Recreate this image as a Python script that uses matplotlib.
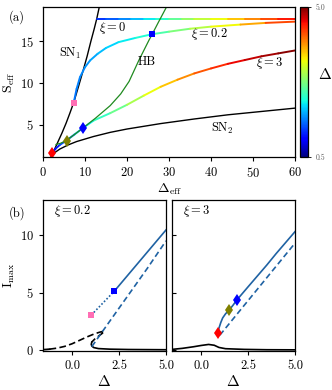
import matplotlib
matplotlib.use("Agg")
import matplotlib.pyplot as plt
import numpy as np
from matplotlib.collections import LineCollection
from matplotlib.colors import Normalize
from matplotlib.cm import ScalarMappable

plt.rcParams.update({
    "font.family": "serif",
    "font.serif": ["cmr10"],
    "mathtext.fontset": "cm",
    "axes.formatter.use_mathtext": True,
    "font.size": 9,
    "axes.linewidth": 0.9,
    "xtick.major.width": 0.8,
    "ytick.major.width": 0.8,
    "xtick.major.size": 3,
    "ytick.major.size": 3,
    "xtick.labelsize": 9,
    "ytick.labelsize": 9,
})

# ---- panel (a): bifurcation curves in (Delta_eff, S_eff) ----
sn1_deff = [1.95, 2.6, 3.5, 4.5, 5.5, 6.4, 7.3, 8.4, 9.5, 10.5, 11.4, 12.2, 12.8, 13.4]
sn1_seff = [1.15, 1.9, 2.9, 4.0, 5.2, 6.4, 7.65, 9.5, 11.4, 13.2, 15.0, 16.5, 17.7, 19.1]

sn2_deff = [2.0, 3.0, 4.0, 6.0, 8.0, 12.0, 16.0, 20.0, 28.0, 36.0, 44.0, 52.0, 60.0]
sn2_seff = [1.25, 1.75, 2.1, 2.6, 3.0, 3.6, 4.1, 4.5, 5.15, 5.7, 6.2, 6.6, 7.0]

hb_deff = [3.1, 4.2, 5.5, 7.5, 9.6, 12.5, 16.0, 18.5, 20.5, 22.8, 25.2, 26.0, 27.5, 29.4]
hb_seff = [2.65, 2.8, 3.1, 3.85, 4.65, 5.8, 7.3, 8.7, 10.2, 12.7, 15.1, 15.85, 17.3, 19.1]

xi0_deff = [12.8, 15, 18, 21, 24, 27, 30, 33, 36, 40, 44, 48, 52, 56, 60]
xi0_seff = [17.7, 17.7, 17.7, 17.7, 17.7, 17.7, 17.7, 17.7, 17.7, 17.7, 17.7, 17.7, 17.7, 17.7, 17.7]
xi0_delta = [1.2, 1.35, 1.55, 1.8, 2.0, 2.2, 2.45, 2.75, 3.0, 3.25, 3.5, 3.8, 4.1, 4.4, 4.6]

xi02_deff = [7.3, 8.0, 8.8, 10, 11.2, 13, 15, 18, 22, 26, 30, 35, 40, 47, 53, 60]
xi02_seff = [7.6, 9.3, 10.7, 11.9, 12.7, 13.5, 14.2, 14.9, 15.4, 15.85, 16.15, 16.5, 16.75, 17.0, 17.2, 17.35]
xi02_delta = [1.55, 1.6, 1.65, 1.7, 1.75, 1.85, 1.95, 2.05, 2.15, 2.4, 2.6, 2.9, 3.2, 3.6, 4.0, 4.5]

xi3_deff = [2.2, 3.0, 4.0, 5.5, 7.5, 9.6, 12, 16, 20, 24, 28, 32, 36, 40, 44, 48, 52, 56, 60]
xi3_seff = [1.6, 2.15, 2.6, 3.1, 3.85, 4.65, 5.5, 6.4, 7.4, 8.5, 9.55, 10.4, 11.15, 11.75, 12.3, 12.75, 13.2, 13.55, 13.9]
xi3_delta = [0.9, 1.05, 1.25, 1.5, 1.75, 2.0, 2.25, 2.5, 2.8, 3.2, 3.5, 3.8, 4.05, 4.3, 4.5, 4.65, 4.8, 4.9, 5.0]

# special points in (a)
red_pt = (2.16, 1.6)
olive_pt = (5.6, 3.1)
bluedia_pt = (9.6, 4.65)
pink_pt = (7.3, 7.6)
bluesq_pt = (26.0, 15.85)

# ---- panel (b) left: xi = 0.2 ----
b1_blk_solid1_d = [-1.6, -1.4, -1.2]
b1_blk_solid1_i = [0.04, 0.05, 0.08]
b1_blk_dash_d = [-1.2, -0.8, -0.4, 0.0, 0.4, 0.8, 1.2, 1.5, 1.72, 1.6, 1.4, 1.2, 1.05]
b1_blk_dash_i = [0.08, 0.17, 0.32, 0.55, 0.85, 1.15, 1.42, 1.57, 1.65, 1.45, 1.2, 0.95, 0.7]
b1_blk_solid2_d = [1.05, 1.02, 1.05, 1.15, 1.4, 2.0, 3.0, 4.0, 5.0]
b1_blk_solid2_i = [0.7, 0.5, 0.35, 0.22, 0.13, 0.08, 0.05, 0.04, 0.03]
b1_blue_solid_d = [2.25, 5.0]
b1_blue_solid_i = [5.13, 10.45]
b1_blue_dot_d = [1.02, 2.25]
b1_blue_dot_i = [3.04, 5.13]
b1_blue_dash_d = [1.05, 1.5, 2.0, 2.5, 3.0, 3.5, 4.0, 4.5, 5.0]
b1_blue_dash_i = [0.3, 1.35, 2.5, 3.65, 4.8, 5.95, 7.1, 8.3, 9.5]
b1_pink_pt = (1.02, 3.04)
b1_bluesq_pt = (2.25, 5.13)

# ---- panel (b) right: xi = 3 ----
b2_blk_d = [-1.55, -1.0, -0.4, 0.0, 0.4, 0.7, 0.95, 1.3, 2.3, 3.5, 5.0]
b2_blk_i = [0.06, 0.15, 0.29, 0.4, 0.49, 0.42, 0.23, 0.12, 0.06, 0.03, 0.02]
b2_blue_solid_d = [0.9, 0.95, 1.05, 1.15, 1.3, 1.5, 1.7, 1.9, 2.5, 3.0, 3.5, 4.0, 4.5, 5.0]
b2_blue_solid_i = [1.5, 1.9, 2.4, 2.8, 3.15, 3.5, 3.9, 4.35, 5.5, 6.45, 7.4, 8.4, 9.35, 10.3]
b2_blue_dash_d = [1.0, 2.0, 3.0, 4.0, 5.0]
b2_blue_dash_i = [1.3, 3.3, 5.3, 7.3, 9.3]
b2_red_pt = (0.9, 1.5)
b2_olive_pt = (1.5, 3.5)
b2_blue_pt = (1.9, 4.35)

pink = "#ff6eb4"
lineblue = "#1f62a3"
cmap = plt.get_cmap("jet")
norm = Normalize(0.5, 5.0)


def colored_line(ax, x, y, c, lw=1.4):
    pts = np.column_stack([x, y]).reshape(-1, 1, 2)
    segs = np.concatenate([pts[:-1], pts[1:]], axis=1)
    cv = 0.5 * (np.asarray(c[:-1]) + np.asarray(c[1:]))
    lc = LineCollection(segs, cmap=cmap, norm=norm, linewidths=lw, capstyle="round")
    lc.set_array(cv)
    ax.add_collection(lc)


fig = plt.figure(figsize=(3.32, 3.9), dpi=100)
ax = fig.add_axes([0.1295, 0.5974, 0.7591, 0.3846])
cax = fig.add_axes([0.9036, 0.5974, 0.024, 0.3846])
axl = fig.add_axes([0.1295, 0.10, 0.3705, 0.387])
axr = fig.add_axes([0.518, 0.10, 0.3705, 0.387])

# panel (a)
ax.plot(sn1_deff, sn1_seff, color="black", lw=1.0)
ax.plot(sn2_deff, sn2_seff, color="black", lw=1.0)
colored_line(ax, xi0_deff, xi0_seff, xi0_delta)
colored_line(ax, xi02_deff, xi02_seff, xi02_delta)
colored_line(ax, xi3_deff, xi3_seff, xi3_delta)
ax.plot(hb_deff, hb_seff, color="#1f8a1f", lw=0.9)
ax.plot(*red_pt, marker="d", color="red", ms=6, mew=0)
ax.plot(*olive_pt, marker="d", color="olive", ms=6, mew=0)
ax.plot(*bluedia_pt, marker="d", color="blue", ms=6, mew=0)
ax.plot(*pink_pt, marker="s", color=pink, ms=5, mew=0)
ax.plot(*bluesq_pt, marker="s", color="blue", ms=5, mew=0)

ax.text(6.4, 13.5, r"SN$_1$", ha="center", va="center")
ax.text(16.5, 16.6, r"$\xi = 0$", ha="center", va="center")
ax.text(24.6, 12.5, "HB", ha="center", va="center")
ax.text(39.6, 15.9, r"$\xi = 0.2$", ha="center", va="center")
ax.text(54.0, 12.4, r"$\xi = 3$", ha="center", va="center")
ax.text(42.8, 4.6, r"SN$_2$", ha="center", va="center")

ax.set_xlim(0, 60)
ax.set_ylim(1.15, 19.1)
ax.set_xticks([0, 10, 20, 30, 40, 50, 60])
ax.set_yticks([5, 10, 15])
ax.set_xlabel(r"$\Delta_{\rm eff}$", fontsize=10, labelpad=1)
ax.set_ylabel(r"$\mathrm{S}_{\rm eff}$", fontsize=10, labelpad=2)

cb = fig.colorbar(ScalarMappable(norm=norm, cmap=cmap), cax=cax, ticks=[0.5, 5.0])
cb.ax.set_yticklabels(["0.5", "5.0"], fontsize=5.5, color="0.35")
cb.ax.tick_params(length=2, width=0.6)
cb.outline.set_linewidth(0.9)
cax.text(3.1, 0.55, r"$\Delta$", transform=cax.transAxes, fontsize=11,
         ha="center", va="center")

# panel (b) left
axl.plot(b1_blk_solid1_d, b1_blk_solid1_i, color="black", lw=1.3)
axl.plot(b1_blk_dash_d, b1_blk_dash_i, color="black", lw=1.2, ls=(0, (4, 2)))
axl.plot(b1_blk_solid2_d, b1_blk_solid2_i, color="black", lw=1.2)
axl.plot(b1_blue_solid_d, b1_blue_solid_i, color=lineblue, lw=1.2)
axl.plot(b1_blue_dot_d, b1_blue_dot_i, color=lineblue, lw=1.2, ls=(0, (1, 1.2)))
axl.plot(b1_blue_dash_d, b1_blue_dash_i, color=lineblue, lw=1.2, ls=(0, (3.5, 2)))
axl.plot(*b1_pink_pt, marker="s", color=pink, ms=5, mew=0)
axl.plot(*b1_bluesq_pt, marker="s", color="blue", ms=5, mew=0)
axl.text(0.09, 0.93, r"$\xi = 0.2$", transform=axl.transAxes, ha="left", va="center")

# panel (b) right
axr.plot(b2_blk_d, b2_blk_i, color="black", lw=1.2)
axr.plot(b2_blue_solid_d, b2_blue_solid_i, color=lineblue, lw=1.2)
axr.plot(b2_blue_dash_d, b2_blue_dash_i, color=lineblue, lw=1.2, ls=(0, (3.5, 2)))
axr.plot(*b2_red_pt, marker="d", color="red", ms=6, mew=0)
axr.plot(*b2_olive_pt, marker="d", color="olive", ms=6, mew=0)
axr.plot(*b2_blue_pt, marker="d", color="blue", ms=6, mew=0)
axr.text(0.09, 0.93, r"$\xi = 3$", transform=axr.transAxes, ha="left", va="center")

for a in (axl, axr):
    a.set_xlim(-1.55, 5.0)
    a.set_ylim(-0.08, 13.05)
    a.set_xticks([0.0, 2.5, 5.0])
    a.set_xticklabels(["0.0", "2.5", "5.0"])
    a.set_yticks([0, 5, 10])
    a.set_xlabel(r"$\Delta$", fontsize=11, labelpad=1)
axl.set_ylabel(r"$\mathrm{I}_{\max}$", fontsize=10, labelpad=2)
axr.tick_params(axis="y", direction="in", labelleft=False)

fig.text(0.051, 0.956, "(a)", ha="center", va="center", fontsize=9)
fig.text(0.051, 0.454, "(b)", ha="center", va="center", fontsize=9)

fig.savefig("out.png", dpi=100)
